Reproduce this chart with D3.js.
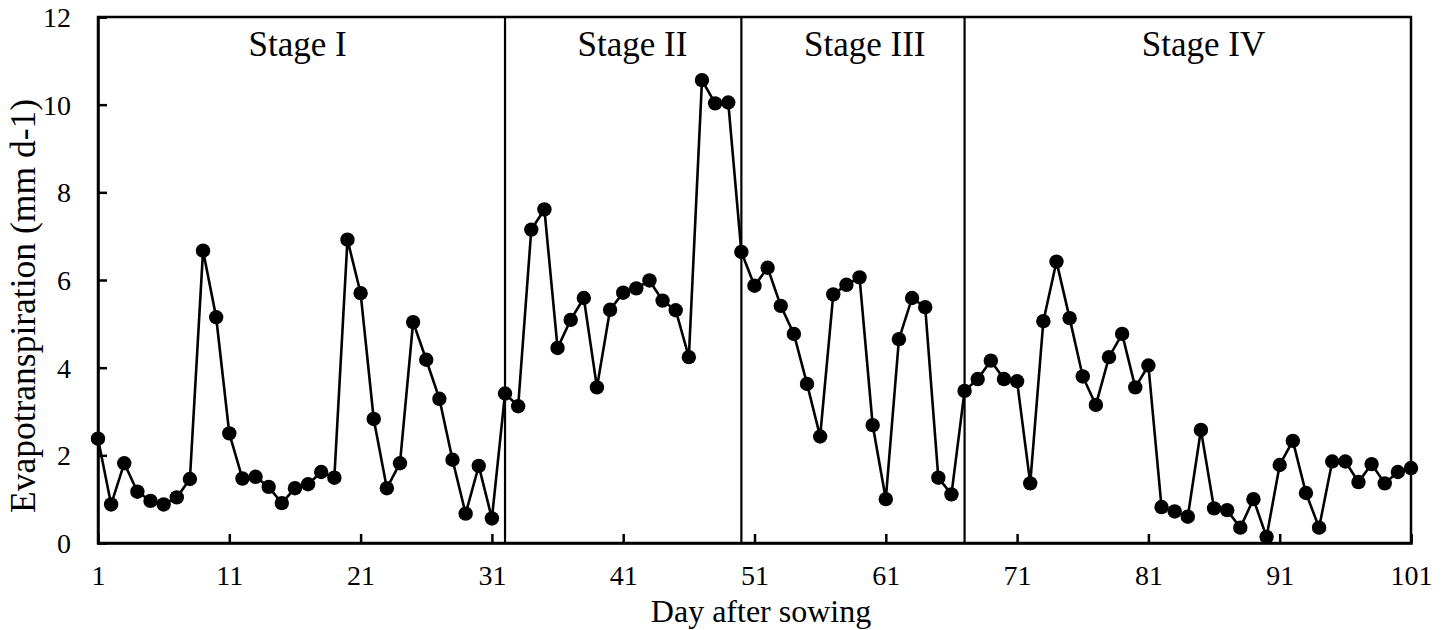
<!DOCTYPE html>
<html>
<head>
<meta charset="utf-8">
<style>
body { margin: 0; background: #fff; }
svg { display: block; }
text { font-family: "Times New Roman", "Liberation Serif", serif; fill: #000; }
</style>
</head>
<body>
<svg id="chart" width="1446" height="630"></svg>
<script src="https://cdnjs.cloudflare.com/ajax/libs/d3/7.8.5/d3.min.js"></script>
<script>
// daily evapotranspiration (mm d-1), day 1..101
const firstDay = 1;
const etValues = [
  2.38, 0.88, 1.82, 1.17, 0.96, 0.88, 1.04, 1.46, 6.67, 5.15,
  2.50, 1.47, 1.51, 1.28, 0.91, 1.25, 1.34, 1.62, 1.49, 6.92,
  5.70, 2.83, 1.25, 1.82, 5.04, 4.18, 3.29, 1.90, 0.67, 1.76,
  0.56,
  3.41, 3.12, 7.15, 7.61, 4.45, 5.09, 5.59, 3.55, 5.32, 5.71,
  5.81, 5.99, 5.53, 5.31, 4.24, 10.56, 10.03, 10.05,
  6.64, 5.87, 6.28, 5.41, 4.77, 3.63, 2.43, 5.67, 5.89, 6.06,
  2.69, 1.00, 4.65, 5.59, 5.38, 1.49, 1.11,
  3.47, 3.74, 4.16, 3.74, 3.69, 1.36, 5.06, 6.42, 5.13, 3.80,
  3.15, 4.24, 4.77, 3.55, 4.05, 0.82, 0.72, 0.60, 2.58, 0.79,
  0.75, 0.35, 1.00, 0.14, 1.78, 2.33, 1.14, 0.35, 1.86, 1.86,
  1.39, 1.80, 1.36, 1.62, 1.71
];
const stageBounds = [32, 50, 67];
const stageNames = ["Stage I", "Stage II", "Stage III", "Stage IV"];
const stageLabelDays = [16.2, 41.7, 59.4, 85.2];
const xTicks = [1, 11, 21, 31, 41, 51, 61, 71, 81, 91, 101];
const yTicks = [0, 2, 4, 6, 8, 10, 12];

const data = etValues.map((v, i) => ({ day: firstDay + i, et: v }));

const svg = d3.select("#chart");
const margin = { top: 17, right: 35, bottom: 87, left: 98 };
const W = 1446, H = 630;

const x = d3.scaleLinear().domain([1, 101]).range([margin.left, W - margin.right]);
const y = d3.scaleLinear().domain([0, 12]).range([H - margin.bottom, margin.top]);

// frame
svg.append("rect")
  .attr("x", x(1)).attr("y", y(12))
  .attr("width", x(101) - x(1)).attr("height", y(0) - y(12))
  .attr("fill", "none").attr("stroke", "#000").attr("stroke-width", 2.5);

// stage dividers
svg.append("g").selectAll("line")
  .data(stageBounds)
  .join("line")
  .attr("x1", d => x(d)).attr("x2", d => x(d))
  .attr("y1", y(0)).attr("y2", y(12))
  .attr("stroke", "#000").attr("stroke-width", 2.2);

// axes with inward ticks
const xAxis = svg.append("g")
  .attr("transform", `translate(0,${y(0)})`)
  .call(d3.axisBottom(x).tickValues(xTicks).tickSize(-9).tickPadding(22).tickFormat(d3.format("d")));
const yAxis = svg.append("g")
  .attr("transform", `translate(${x(1)},0)`)
  .call(d3.axisLeft(y).tickValues(yTicks).tickSize(-9).tickPadding(27).tickFormat(d3.format("d")));

[xAxis, yAxis].forEach(g => {
  g.select(".domain").attr("stroke", "#000").attr("stroke-width", 2.5);
  g.selectAll(".tick line").attr("stroke", "#000").attr("stroke-width", 2.5);
  g.selectAll(".tick text")
    .style("font-family", '"Times New Roman", "Liberation Serif", serif')
    .style("font-size", "28px").attr("fill", "#000");
});
yAxis.selectAll(".tick text").attr("dy", "0.34em");
xAxis.selectAll(".tick text").attr("dy", "0.71em");

// series line
svg.append("path")
  .datum(data)
  .attr("fill", "none")
  .attr("stroke", "#000")
  .attr("stroke-width", 2.6)
  .attr("d", d3.line().x(d => x(d.day)).y(d => y(d.et)));

// markers
svg.append("g").selectAll("circle")
  .data(data)
  .join("circle")
  .attr("cx", d => x(d.day))
  .attr("cy", d => y(d.et))
  .attr("r", 7.2)
  .attr("fill", "#000");

// stage labels
svg.append("g").selectAll("text")
  .data(stageNames)
  .join("text")
  .attr("x", (d, i) => x(stageLabelDays[i]))
  .attr("y", 56)
  .attr("text-anchor", "middle")
  .style("font-size", "35px")
  .text(d => d);

// axis titles
svg.append("text")
  .attr("x", 761).attr("y", 622)
  .attr("text-anchor", "middle")
  .style("font-size", "32px")
  .text("Day after sowing");

svg.append("text")
  .attr("transform", "translate(35,306) rotate(-90)")
  .attr("text-anchor", "middle")
  .style("font-size", "35.5px")
  .text("Evapotranspiration (mm d-1)");
</script>
</body>
</html>
